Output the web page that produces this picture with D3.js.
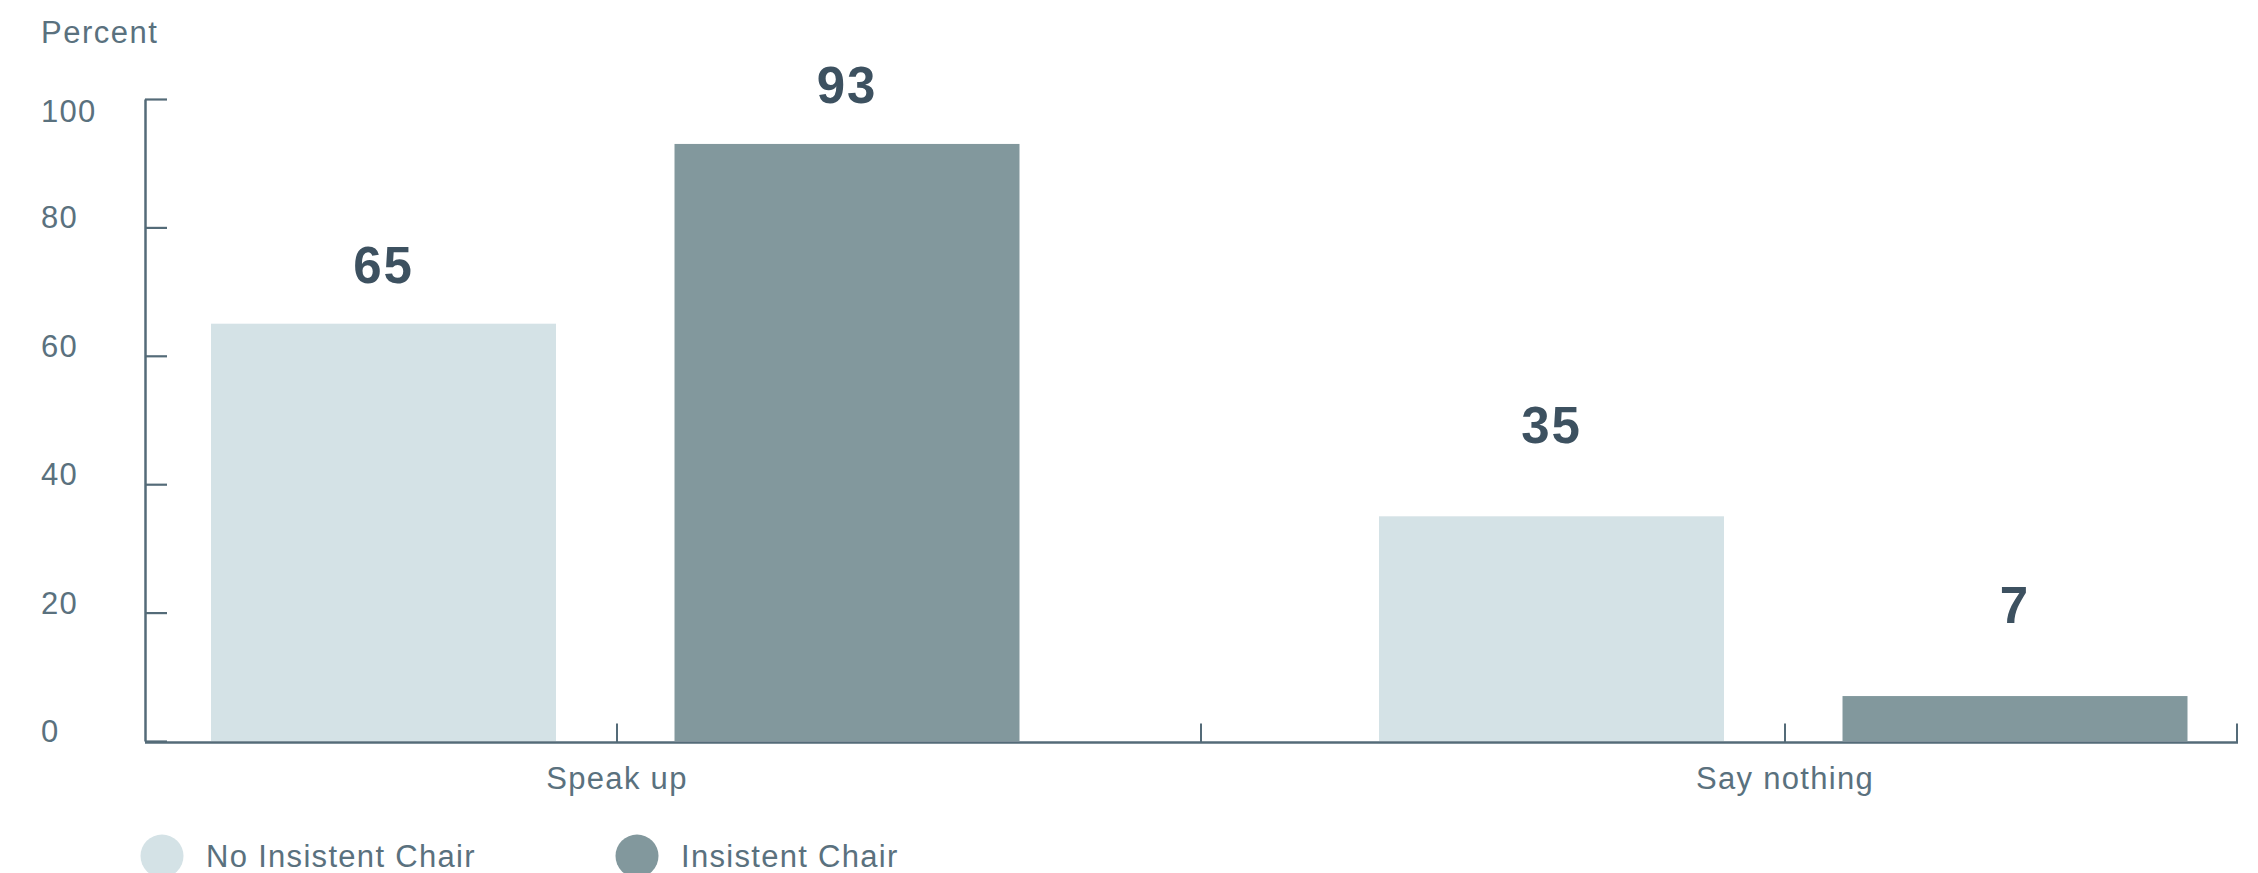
<!DOCTYPE html>
<html>
<head>
<meta charset="utf-8">
<script src="https://cdn.jsdelivr.net/npm/d3@7"></script>
<style>
  html, body { margin: 0; padding: 0; background: #ffffff; }
  svg { display: block; font-family: "Liberation Sans", Arial, sans-serif; }
</style>
</head>
<body>
<svg id="chart" width="2258" height="873"></svg>
<script>
// Share of respondents who would speak up or stay silent, by chair condition
const categories = ["Speak up", "Say nothing"];
const series = ["No Insistent Chair", "Insistent Chair"];
const noInsistentChair = [65, 35];
const insistentChair = [93, 7];
const yTicks = [0, 20, 40, 60, 80, 100];
const yLabel = "Percent";

const seriesValues = [noInsistentChair, insistentChair];
const colors = ["#d4e2e6", "#82989d"];
const axisColor = "#546b78";
const textColor = "#5a717e";
const valueColor = "#3d5160";

const svg = d3.select("#chart");

const axisLeftX = 145;
const axisRightX = 2237;

const y = d3.scaleLinear().domain([0, 100]).range([741, 99]);

// One band per category; the two series bars sit inside each band
const x0 = d3.scaleBand().domain(categories).range([33, 2369]).paddingInner(0).paddingOuter(0);
const x1 = d3.scaleBand().domain(series).range([178, 986.5]).paddingInner(0.2557).paddingOuter(0);

// Bars
const rows = [];
categories.forEach((c, ci) => {
  series.forEach((s, si) => {
    rows.push({ category: c, series: s, si, value: seriesValues[si][ci] });
  });
});

svg.append("g")
  .selectAll("rect")
  .data(rows)
  .join("rect")
  .attr("x", d => x0(d.category) + x1(d.series))
  .attr("y", d => y(d.value))
  .attr("width", x1.bandwidth())
  .attr("height", d => y(0) - y(d.value))
  .attr("fill", d => colors[d.si]);

// Value labels above the bars
const labelLift = { "Speak up": 41, "Say nothing": 73 };
svg.append("g")
  .selectAll("text")
  .data(rows)
  .join("text")
  .attr("x", d => x0(d.category) + x1(d.series) + x1.bandwidth() / 2)
  .attr("y", d => y(d.value) - labelLift[d.category])
  .attr("text-anchor", "middle")
  .attr("font-size", 51)
  .attr("font-weight", 700)
  .attr("letter-spacing", 2)
  .attr("fill", valueColor)
  .text(d => d.value);

// Y axis: ticks point into the plot
const yAxis = svg.append("g")
  .attr("transform", `translate(${axisLeftX},0)`)
  .call(d3.axisLeft(y).tickValues(yTicks).tickSizeInner(-22).tickSizeOuter(0).tickFormat(""));
yAxis.select(".domain").attr("stroke", axisColor).attr("stroke-width", 2.5);
yAxis.selectAll(".tick line").attr("stroke", axisColor).attr("stroke-width", 2.2);

svg.append("g")
  .selectAll("text")
  .data(yTicks)
  .join("text")
  .attr("x", 41)
  .attr("y", d => Math.max(y(d) + 1, y(100) + 23))
  .attr("font-size", 31)
  .attr("letter-spacing", 1.2)
  .attr("fill", textColor)
  .text(d => d);

svg.append("text")
  .attr("x", 41)
  .attr("y", 43)
  .attr("font-size", 31)
  .attr("letter-spacing", 1.5)
  .attr("fill", textColor)
  .text(yLabel);

// X axis: baseline with upward ticks at category centres, between categories and at the end
const xTickPositions = categories.map(c => x0(c) + x0.bandwidth() / 2)
  .concat(categories.slice(1).map(c => x0(c)))
  .concat([axisRightX]);

const xAxis = svg.append("g").attr("transform", `translate(0,${y(0) + 1.5})`);
xAxis.append("line")
  .attr("x1", axisLeftX).attr("x2", axisRightX + 1)
  .attr("stroke", axisColor).attr("stroke-width", 2.5);
xAxis.selectAll("line.tick")
  .data(xTickPositions)
  .join("line")
  .attr("class", "tick")
  .attr("x1", d => d).attr("x2", d => d)
  .attr("y1", 0).attr("y2", -19)
  .attr("stroke", axisColor).attr("stroke-width", 2);

svg.append("g")
  .selectAll("text")
  .data(categories)
  .join("text")
  .attr("x", d => x0(d) + x0.bandwidth() / 2)
  .attr("y", 789)
  .attr("text-anchor", "middle")
  .attr("font-size", 31)
  .attr("letter-spacing", 1.3)
  .attr("fill", textColor)
  .text(d => d);

// Legend
const legendX = [162, 637];
const legend = svg.append("g")
  .selectAll("g")
  .data(series)
  .join("g")
  .attr("transform", (d, i) => `translate(${legendX[i]},856)`);
legend.append("circle").attr("r", 21.5).attr("fill", (d, i) => colors[i]);
legend.append("text")
  .attr("x", 44)
  .attr("y", 11)
  .attr("font-size", 31)
  .attr("letter-spacing", 1.3)
  .attr("fill", textColor)
  .text(d => d);
</script>
</body>
</html>
